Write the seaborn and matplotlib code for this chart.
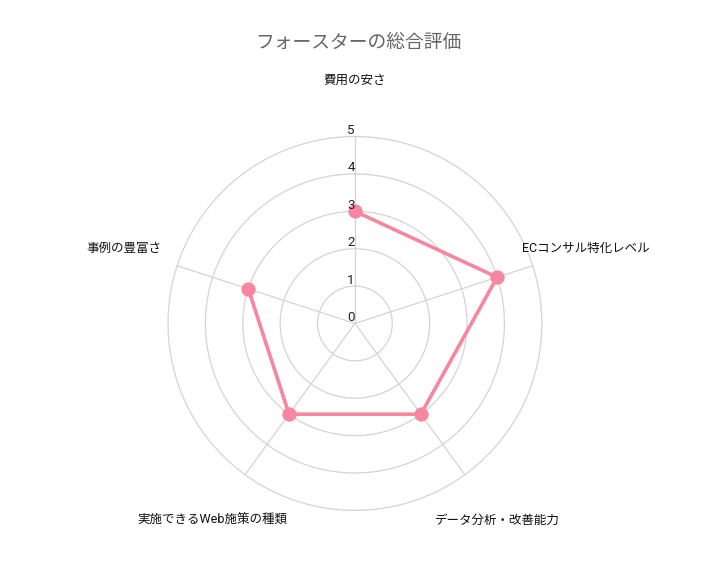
import numpy as np
import pandas as pd
import seaborn as sns
import matplotlib.pyplot as plt
from matplotlib.transforms import offset_copy

# データ
categories = ["費用の安さ", "ECコンサル特化レベル", "データ分析・改善能力",
              "実施できるWeb施策の種類", "事例の豊富さ"]
scores = [3, 4, 3, 3, 3]
ticks = [0, 1, 2, 3, 4, 5]
title = "フォースターの総合評価"

sns.set_style("white")
plt.rcParams["font.family"] = ["Roboto", "Noto Sans CJK JP", "DejaVu Sans"]

pink = "#f7869e"
grid_col = "#d4d4d4"

n = len(categories)
angles = np.linspace(0, 2 * np.pi, n, endpoint=False)
df = pd.DataFrame({"angle": list(angles) + [angles[0]],
                   "score": scores + [scores[0]]})

fig = plt.figure(figsize=(7.12, 5.71), dpi=100)
ax = fig.add_axes([0.236, 0.106, 0.525, 0.655], projection="polar")
ax.set_theta_zero_location("N")
ax.set_theta_direction(-1)
ax.set_ylim(0, 5)

# グリッド
ax.grid(False)
ax.set_xticks([])
ax.set_yticks([])
ax.spines["polar"].set_visible(False)
circle = np.linspace(0, 2 * np.pi, 400)
for t in ticks[1:]:
    ax.plot(circle, np.full_like(circle, t), color=grid_col, lw=0.9,
            zorder=1, clip_on=False)
for a in angles:
    ax.plot([a, a], [0, 5], color=grid_col, lw=0.9, zorder=1, clip_on=False)

sns.lineplot(data=df, x="angle", y="score", sort=False, ax=ax,
             color=pink, lw=2.6, marker="o", markersize=9.5,
             markeredgecolor=pink, zorder=3)
ax.set_xlabel("")
ax.set_ylabel("")

# 目盛りラベル
tr = offset_copy(ax.transData, fig=fig, x=-4, y=6, units="dots")
for t in ticks:
    ax.text(0, t, str(t), transform=tr, ha="center", va="center",
            fontsize=9.5, color="#222222", zorder=4, clip_on=False)

# 項目ラベル
for a, c in zip(angles, categories):
    ax.text(a, 6.5, c, ha="center", va="center", fontsize=9,
            color="#111111", clip_on=False)

fig.text(0.504, 0.925, title, ha="center", va="center",
         fontsize=13.5, color="#666666")

fig.savefig("out.png", dpi=100)
